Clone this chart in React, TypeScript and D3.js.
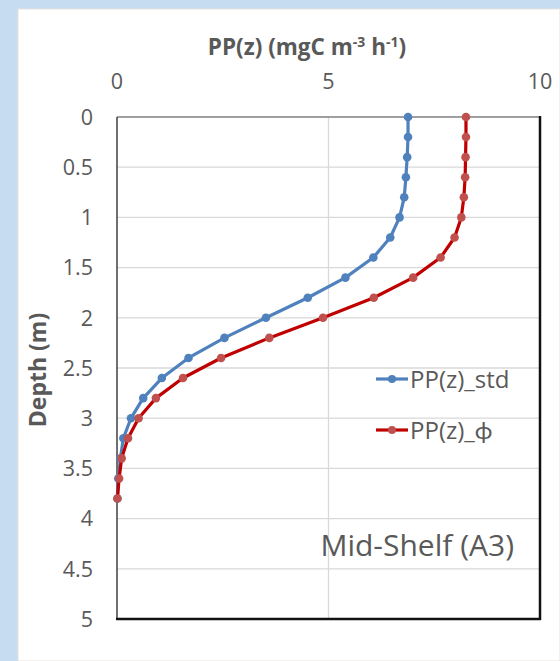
import * as d3 from "d3";
import { useEffect, useRef } from "react";

// depth (m), sampled every 0.2 m
const depths = [0, 0.2, 0.4, 0.6, 0.8, 1.0, 1.2, 1.4, 1.6, 1.8, 2.0, 2.2, 2.4, 2.6, 2.8, 3.0, 3.2, 3.4, 3.6, 3.8];
const ppStd = [6.88, 6.88, 6.86, 6.83, 6.79, 6.68, 6.46, 6.06, 5.4, 4.51, 3.52, 2.54, 1.69, 1.06, 0.62, 0.33, 0.15, 0.08, 0.03, 0.01];
const ppPhi = [8.25, 8.25, 8.24, 8.23, 8.2, 8.14, 7.98, 7.65, 7.0, 6.07, 4.87, 3.6, 2.46, 1.56, 0.92, 0.51, 0.26, 0.11, 0.05, 0.01];
const xTicks = [0, 5, 10];
const yTicks = [0, 0.5, 1, 1.5, 2, 2.5, 3, 3.5, 4, 4.5, 5];
const seriesNames = ["PP(z)_std", "PP(z)_\u03D5"];

const W = 560;
const H = 661;
const font = "'Open Sans', Lato, sans-serif";

function App() {
	const ref = useRef<SVGSVGElement>(null);

	useEffect(() => {
		const svg = d3.select(ref.current);
		svg.selectAll("*").remove();

		const left = 117, right = 540, top = 117, bottom = 619;

		// background
		svg.append("rect").attr("width", W).attr("height", H).attr("fill", "#c6dcf1");
		svg.append("rect").attr("x", 18).attr("y", 9).attr("width", W - 18).attr("height", H - 9).attr("fill", "#fff").attr("stroke", "#e6e0dc").attr("stroke-width", 1);

		const x = d3.scaleLinear().domain([0, 10]).range([left, right]);
		const y = d3.scaleLinear().domain([0, 5]).range([top, bottom]);

		// gridlines
		svg.append("g").selectAll("line").data(yTicks.slice(1, -1)).join("line")
			.attr("x1", left).attr("x2", right).attr("y1", d => y(d)).attr("y2", d => y(d))
			.attr("stroke", "#d9d9d9").attr("stroke-width", 1.3);
		svg.append("g").selectAll("line").data(xTicks.slice(1, -1)).join("line")
			.attr("x1", d => x(d)).attr("x2", d => x(d)).attr("y1", top).attr("y2", bottom)
			.attr("stroke", "#d9d9d9").attr("stroke-width", 1.3);

		// plot border
		svg.append("line").attr("x1", left).attr("x2", right).attr("y1", top).attr("y2", top).attr("stroke", "#7f7f7f").attr("stroke-width", 1.5);
		svg.append("line").attr("x1", left).attr("x2", left).attr("y1", top).attr("y2", bottom).attr("stroke", "#404040").attr("stroke-width", 1.5);
		svg.append("line").attr("x1", right).attr("x2", right).attr("y1", top - 1).attr("y2", bottom + 1).attr("stroke", "#111").attr("stroke-width", 2.5);
		svg.append("line").attr("x1", left - 1).attr("x2", right + 1).attr("y1", bottom).attr("y2", bottom).attr("stroke", "#111").attr("stroke-width", 2.5);

		// tick labels
		svg.append("g").selectAll("text").data(xTicks).join("text")
			.attr("x", d => x(d)).attr("y", 89).attr("text-anchor", "middle")
			.attr("font-family", font).attr("font-size", 21.5).attr("fill", "#595959").text(d => d);
		svg.append("g").selectAll("text").data(yTicks).join("text")
			.attr("x", 93).attr("y", d => y(d)).attr("dy", "0.36em").attr("text-anchor", "end")
			.attr("font-family", font).attr("font-size", 21.5).attr("fill", "#595959").text(d => d);

		// axis titles
		const title = svg.append("text").attr("x", 307).attr("y", 55).attr("text-anchor", "middle")
			.attr("font-family", font).attr("font-size", 22.5).attr("font-weight", "bold").attr("fill", "#595959");
		title.append("tspan").text("PP(z) (mgC m");
		title.append("tspan").attr("font-size", 14).attr("dy", -8).text("-3");
		title.append("tspan").attr("dy", 8).text(" h");
		title.append("tspan").attr("font-size", 14).attr("dy", -8).text("-1");
		title.append("tspan").attr("dy", 8).text(")");

		svg.append("text").attr("transform", `translate(46,370) rotate(-90)`).attr("text-anchor", "middle")
			.attr("font-family", font).attr("font-size", 23).attr("font-weight", "bold").attr("fill", "#595959").text("Depth (m)");

		// series
		const series = [
			{ values: ppStd, line: "#4f81bd", dot: "#4f81bd" },
			{ values: ppPhi, line: "#c00000", dot: "#c0504d" },
		];
		const line = d3.line<number>().x(d => x(d)).y((_, i) => y(depths[i]));
		series.forEach(s => {
			svg.append("path").datum(s.values).attr("d", line).attr("fill", "none")
				.attr("stroke", s.line).attr("stroke-width", 3.2).attr("stroke-linejoin", "round");
			svg.append("g").selectAll("circle").data(s.values).join("circle")
				.attr("cx", d => x(d)).attr("cy", (_, i) => y(depths[i])).attr("r", 4.3).attr("fill", s.dot);
		});

		// legend
		const legend = svg.append("g");
		series.forEach((s, i) => {
			const ly = 379 + i * 51;
			legend.append("line").attr("x1", 376).attr("x2", 408).attr("y1", ly).attr("y2", ly).attr("stroke", s.line).attr("stroke-width", 3.2);
			legend.append("circle").attr("cx", 392).attr("cy", ly).attr("r", 4).attr("fill", s.dot);
			legend.append("text").attr("x", 410).attr("y", ly).attr("dy", "0.36em")
				.attr("font-family", font).attr("font-size", 24).attr("fill", "#595959").text(seriesNames[i]);
		});

		svg.append("text").attr("x", 514).attr("y", 556).attr("text-anchor", "end")
			.attr("font-family", font).attr("font-size", 30).attr("fill", "#595959").text("Mid-Shelf (A3)");
	}, []);

	return <svg ref={ref} width={W} height={H} style={{ position: "absolute", left: 0, top: 0 }}></svg>;
}

export default App;
